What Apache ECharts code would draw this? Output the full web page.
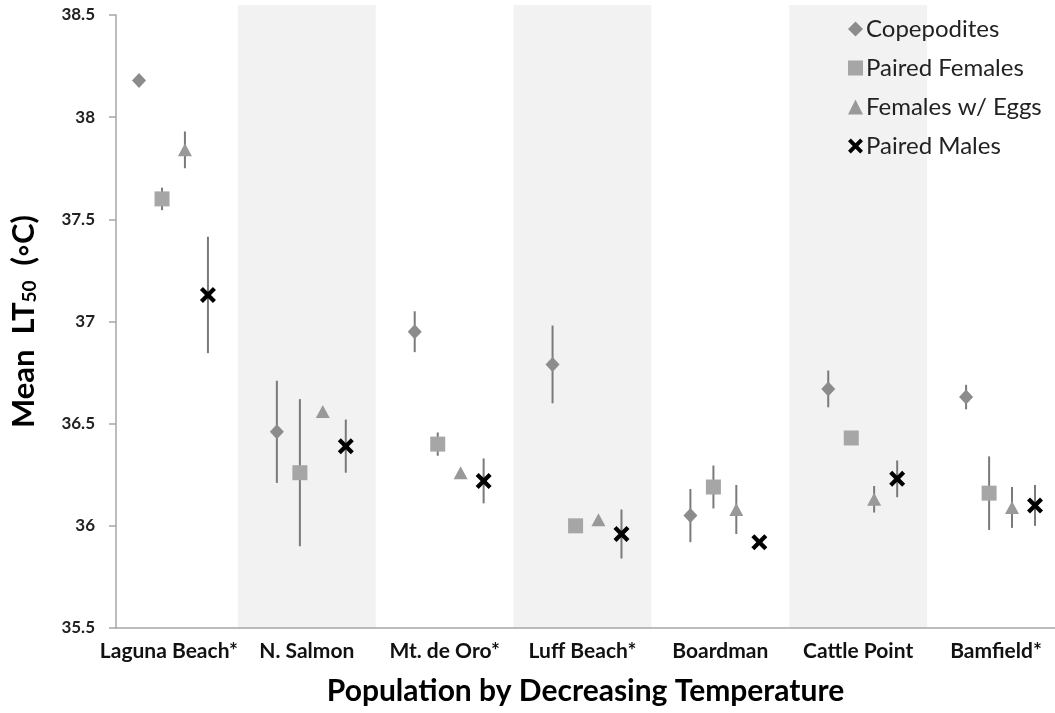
<!DOCTYPE html>
<html>
<head>
<meta charset="utf-8">
<script src="https://cdn.jsdelivr.net/npm/echarts@6/dist/echarts.min.js"></script>
<style>
html,body{margin:0;padding:0;background:#fff;}
#chart{width:1055px;height:713px;}
</style>
</head>
<body>
<div id="chart"></div>
<script>
const categories = ['Laguna Beach*', 'N. Salmon', 'Mt. de Oro*', 'Luff Beach*', 'Boardman', 'Cattle Point', 'Bamfield*'];
const yTicks = [35.5, 36, 36.5, 37, 37.5, 38, 38.5];
const seriesNames = ['Copepodites', 'Paired Females', 'Females w/ Eggs', 'Paired Males'];
const copepodites      = [38.18, 36.46, 36.95, 36.79, 36.05, 36.67, 36.63];
const copepoditesErr   = [0.00, 0.25, 0.10, 0.19, 0.13, 0.09, 0.06];
const pairedFemales    = [37.60, 36.26, 36.40, 36.00, 36.19, 36.43, 36.16];
const pairedFemalesErr = [0.055, 0.36, 0.057, 0.00, 0.105, 0.00, 0.18];
const femalesEggs      = [37.84, 36.56, 36.26, 36.03, 36.08, 36.13, 36.09];
const femalesEggsErr   = [0.09, 0.00, 0.00, 0.00, 0.12, 0.065, 0.10];
const pairedMales      = [37.13, 36.39, 36.22, 35.96, 35.92, 36.23, 36.10];
const pairedMalesErr   = [0.285, 0.13, 0.11, 0.12, 0.00, 0.09, 0.10];
const shadedBands = [1, 3, 5];

const offsets = [-0.217, -0.05, 0.116, 0.283];
const colors = ['#8c8c8c', '#a6a6a6', '#999999', '#000000'];
const crossPath = 'path://M3,0 L8,5 L13,0 L16,3 L11,8 L16,13 L13,16 L8,11 L3,16 L0,13 L5,8 L0,3 Z';
const symbols = ['diamond', 'rect', 'triangle', crossPath];
const sizes = [[14, 15], [15, 15], [14, 13], [16, 16]];
const values = [copepodites, pairedFemales, femalesEggs, pairedMales];
const errors = [copepoditesErr, pairedFemalesErr, femalesEggsErr, pairedMalesErr];

const font = 'Lato, "Open Sans", sans-serif';
const series = [];

series.push({
  type: 'custom',
  name: 'bands',
  silent: true,
  z: 0,
  clip: false,
  data: shadedBands.map(i => [i]),
  renderItem: function (params, api) {
    const a = api.coord([api.value(0) - 0.5, yTicks[yTicks.length - 1]]);
    const b = api.coord([api.value(0) + 0.5, yTicks[0]]);
    return {
      type: 'rect',
      shape: { x: a[0], y: a[1] - 10, width: b[0] - a[0], height: b[1] - a[1] + 10 },
      style: { fill: '#f2f2f2' }
    };
  }
});

for (let s = 0; s < 4; s++) {
  series.push({
    type: 'custom',
    name: seriesNames[s] + ' err',
    silent: true,
    z: 2,
    data: values[s].map((v, i) => [i + offsets[s], v, errors[s][i]]),
    renderItem: function (params, api) {
      const e = api.value(2);
      if (!e) return null;
      const p1 = api.coord([api.value(0), api.value(1) - e]);
      const p2 = api.coord([api.value(0), api.value(1) + e]);
      return {
        type: 'line',
        shape: { x1: p1[0], y1: p1[1], x2: p2[0], y2: p2[1] },
        style: { stroke: '#7a7a7a', lineWidth: 2 }
      };
    }
  });
  series.push({
    type: 'scatter',
    name: seriesNames[s],
    z: 3,
    symbol: symbols[s],
    symbolSize: sizes[s],
    itemStyle: { color: colors[s], opacity: 1 },
    data: values[s].map((v, i) => [i + offsets[s], v])
  });
}

const chart = echarts.init(document.getElementById('chart'), null, { renderer: 'canvas' });
chart.setOption({
  animation: false,
  backgroundColor: '#ffffff',
  grid: { left: 115, right: 0, top: 15, bottom: 85, containLabel: false },
  legend: {
    orient: 'vertical',
    left: 843,
    top: 12,
    itemGap: 15,
    itemWidth: 15,
    itemHeight: 15,
    data: seriesNames.map((n, i) => ({ name: n, icon: symbols[i] })),
    textStyle: { fontFamily: font, fontSize: 24, color: '#222', padding: [0, 0, 0, -2] }
  },
  xAxis: {
    type: 'value',
    min: -0.384,
    max: 6.428,
    splitLine: { show: false },
    axisLine: { show: true, onZero: false, lineStyle: { color: '#a6a6a6', width: 1.5 } },
    axisTick: { show: false },
    axisLabel: {
      customValues: categories.map((c, i) => i),
      formatter: v => categories[Math.round(v)],
      fontFamily: font, fontWeight: 'bold', fontSize: 21, color: '#111', margin: 13
    },
    name: 'Population by Decreasing Temperature',
    nameLocation: 'middle',
    nameGap: 48,
    nameTextStyle: { fontFamily: font, fontWeight: 'bold', fontSize: 30, color: '#000' }
  },
  yAxis: {
    type: 'value',
    min: 35.5,
    max: 38.5,
    interval: 0.5,
    splitLine: { show: false },
    axisLine: { show: true, onZero: false, lineStyle: { color: '#a6a6a6', width: 1.5 } },
    axisTick: { show: true, length: 7, lineStyle: { color: '#a6a6a6', width: 1.5 } },
    axisLabel: {
      fontFamily: font, fontWeight: 'bold', fontSize: 17, color: '#222', margin: 21,
      formatter: v => String(v)
    },
    name: 'Mean  LT{sub|50}  (\u25E6C)',
    nameLocation: 'middle',
    nameGap: 77,
    nameTextStyle: {
      fontFamily: font, fontWeight: 'bold', fontSize: 31, color: '#000',
      rich: {
        sub: { fontFamily: font, fontWeight: 'bold', fontSize: 19, color: '#000', verticalAlign: 'bottom', padding: [11, 0, 0, 0] }
      }
    }
  },
  series: series
});
</script>
</body>
</html>
